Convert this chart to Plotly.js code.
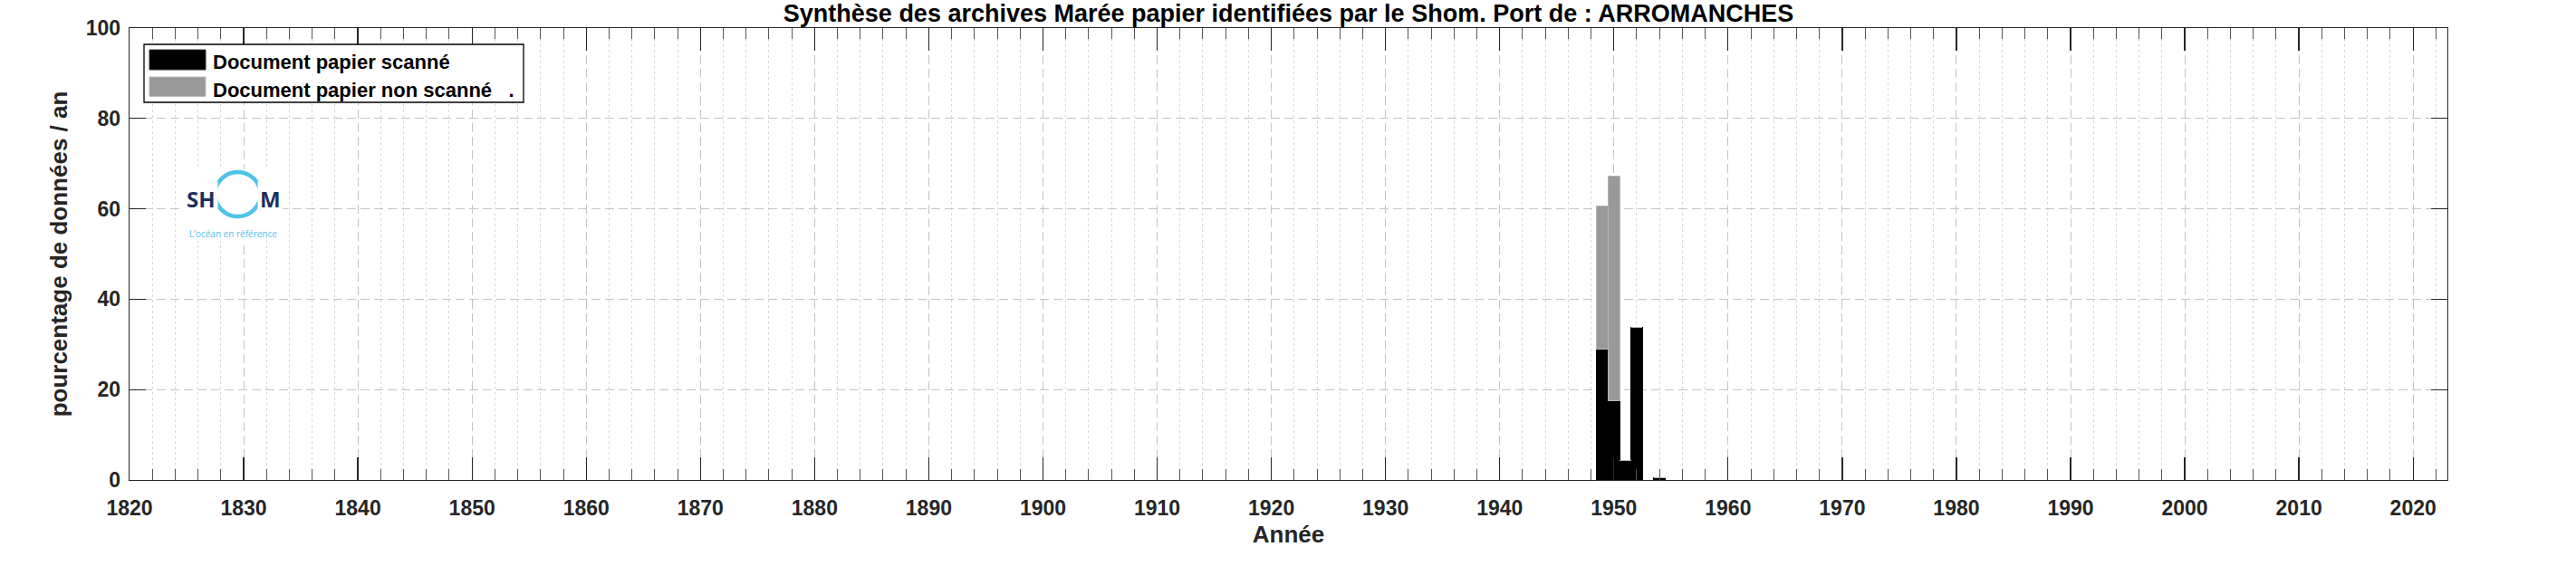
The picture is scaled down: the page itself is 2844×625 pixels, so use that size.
<!DOCTYPE html>
<html><head><meta charset="utf-8">
<script src="https://cdn.plot.ly/plotly-3.0.1.min.js"></script>
<style>html,body{margin:0;padding:0;background:#fff}#chart{width:2844px;height:625px}</style>
</head><body><div id="chart"></div>
<script>
// ---- data ----
const years = [1949, 1950, 1951, 1952, 1953, 1954];
const scanned = [29.0, 17.5, 4.3, 33.8, 0, 0.6];
const nonScanned = [31.7, 49.8, 0, 0, 0, 0];
const seriesNames = ['Document papier scanné', 'Document papier non scanné\u00a0\u00a0\u00a0.'];
const titleText = 'Synthèse des archives Marée papier identifiées par le Shom. Port de : ARROMANCHES';
const xTitleText = 'Année';
const yTitleText = 'pourcentage de données / an';
const logoWord = ['SH', 'M'];
const logoTagline = 'L\u2019océan en référence';

// ---- layout geometry ----
const W = 2844, H = 625;
const M = {l: 143, r: 142, t: 31, b: 95};
const PW = W - M.l - M.r, PH = H - M.t - M.b;
const px = x => (x - M.l) / PW;
const py = y => (H - M.b - y) / PH;

const FONT = 'Liberation Sans, Arial, Helvetica, sans-serif';
const ink = '#262626';

const traces = [
  {type: 'bar', x: years, y: scanned, name: seriesNames[0], width: 1,
   marker: {color: '#000000', line: {color: '#000000', width: 1}}, showlegend: false},
  {type: 'bar', x: years, y: nonScanned, name: seriesNames[1], width: 1,
   marker: {color: '#999999', line: {color: '#b8b8b8', width: 1}}, showlegend: false}
];

const shapes = [
  // logo background
  {type: 'rect', xref: 'paper', yref: 'paper', x0: px(200), x1: px(312), y0: py(266), y1: py(187),
   fillcolor: '#ffffff', line: {width: 0}, layer: 'above'},
  // logo ring
  {type: 'circle', xref: 'paper', yref: 'paper', x0: px(237.5), x1: px(287.5), y0: py(239), y1: py(190),
   line: {color: '#4ec3e8', width: 4.5}, layer: 'above'},
  // legend box
  {type: 'rect', xref: 'paper', yref: 'paper', x0: px(159), x1: px(578), y0: py(113), y1: py(49),
   fillcolor: '#ffffff', line: {color: '#000000', width: 1.3}, layer: 'above'},
  {type: 'rect', xref: 'paper', yref: 'paper', x0: px(165), x1: px(227), y0: py(77), y1: py(55),
   fillcolor: '#000000', line: {color: '#333333', width: 1}, layer: 'above'},
  {type: 'rect', xref: 'paper', yref: 'paper', x0: px(165), x1: px(227), y0: py(106.5), y1: py(85),
   fillcolor: '#999999', line: {color: '#bbbbbb', width: 1}, layer: 'above'}
];

const annotations = [
  {xref: 'paper', yref: 'paper', x: px(233), y: py(69), xanchor: 'left', yanchor: 'middle', showarrow: false,
   text: seriesNames[0], font: {family: FONT, size: 22, color: '#000', weight: 700}},
  {xref: 'paper', yref: 'paper', x: px(233), y: py(99), xanchor: 'left', yanchor: 'middle', showarrow: false,
   text: seriesNames[1], font: {family: FONT, size: 22, color: '#000', weight: 700}},
  {xref: 'paper', yref: 'paper', x: px(222), y: py(219), xanchor: 'center', yanchor: 'middle', showarrow: false,
   text: logoWord[0], bgcolor: '#ffffff', borderpad: 2,
   font: {family: 'Open Sans, sans-serif', size: 24, color: '#1b2f5e', weight: 700}},
  {xref: 'paper', yref: 'paper', x: px(298), y: py(219), xanchor: 'center', yanchor: 'middle', showarrow: false,
   text: logoWord[1], bgcolor: '#ffffff', borderpad: 2,
   font: {family: 'Open Sans, sans-serif', size: 24, color: '#1b2f5e', weight: 700}},
  {xref: 'paper', yref: 'paper', x: px(257), y: py(258), xanchor: 'center', yanchor: 'middle', showarrow: false,
   text: logoTagline, font: {family: 'Open Sans, sans-serif', size: 10, color: '#56c1ea'}}
];

const layout = {
  width: W, height: H, margin: M,
  paper_bgcolor: '#ffffff', plot_bgcolor: '#ffffff',
  barmode: 'stack', bargap: 0,
  showlegend: false,
  title: {text: titleText, x: 0.5, xref: 'paper', xanchor: 'center', y: 1 - 14.5 / H, yref: 'container', yanchor: 'middle',
          pad: {t: 0, b: 0},
          font: {family: FONT, size: 27, color: '#000000', weight: 700}},
  xaxis: {
    range: [1820, 2023], tick0: 1820, dtick: 10, tickmode: 'linear',
    ticks: 'inside', ticklen: 25, tickwidth: 1.3, tickcolor: ink,
    showline: true, linecolor: ink, linewidth: 1.3, mirror: 'ticks',
    showgrid: true, gridcolor: '#c4c4c4', gridwidth: 1, griddash: '10px,5px',
    zeroline: false, ticklabelstandoff: 10,
    tickfont: {family: FONT, size: 23, color: ink, weight: 700},
    minor: {tick0: 1820, dtick: 2, ticks: 'inside', ticklen: 12, tickcolor: '#555555', tickwidth: 1,
            showgrid: true, gridcolor: '#d8d8d8', gridwidth: 1, griddash: 'dot'},
    title: {text: xTitleText, standoff: 8, font: {family: FONT, size: 26, color: ink, weight: 700}}
  },
  yaxis: {
    range: [0, 100], tick0: 0, dtick: 20, tickmode: 'linear',
    ticks: 'inside', ticklen: 18, tickwidth: 1.3, tickcolor: ink,
    showline: true, linecolor: ink, linewidth: 1.3, mirror: 'ticks',
    showgrid: true, gridcolor: '#c4c4c4', gridwidth: 1, griddash: '10px,5px',
    zeroline: false, ticklabelstandoff: 4,
    tickfont: {family: FONT, size: 23, color: ink, weight: 700},
    title: {text: yTitleText, standoff: 12, font: {family: FONT, size: 26, color: ink, weight: 700}}
  },
  shapes: shapes,
  annotations: annotations
};

Plotly.newPlot('chart', traces, layout, {displayModeBar: false, staticPlot: true});
</script>
</body></html>
